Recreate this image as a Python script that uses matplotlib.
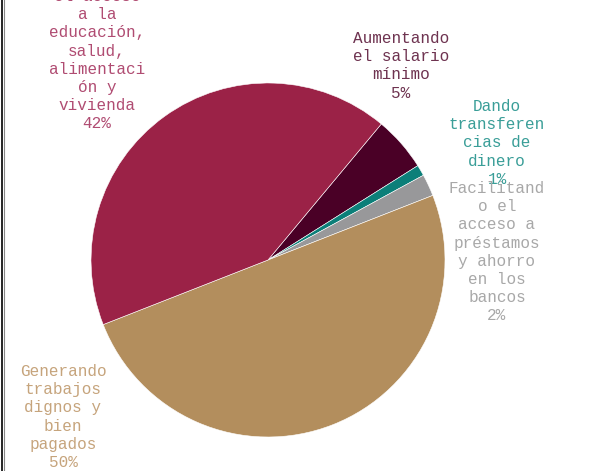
import matplotlib as mpl
import matplotlib.pyplot as plt
from matplotlib.lines import Line2D

mpl.rcParams.update({"font.family": ["Liberation Mono", "DejaVu Sans Mono"]})

# data (clockwise from the top-right slice)
labels = ["Aumentando\nel salario\nmínimo",
          "Dando\ntransferen\ncias de\ndinero",
          "Facilitand\no el\nacceso a\npréstamos\ny ahorro\nen los\nbancos",
          "Generando\ntrabajos\ndignos y\nbien\npagados",
          "el acceso\na la\neducación,\nsalud,\nalimentaci\nón y\nvivienda"]
values = [5, 1, 2, 50, 42]
colors = ["#4A0026", "#0C7F79", "#98989A", "#B38E5D", "#9B2247"]
text_colors = ["#6E3350", "#3A9E98", "#A8A8A8", "#C6A47C", "#B04C72"]

# label centres in pixels of the 602x471 picture (x, y of the top line)
label_px = [(401, 39), (497, 107), (497, 189), (63, 372), (97, -3)]

W, H = 602, 471
cx, cy, r = 268, 260, 177

fig = plt.figure(figsize=(W / 100, H / 100), dpi=100)
ax = fig.add_axes([(cx - r) / W, (H - cy - r) / H, 2 * r / W, 2 * r / H])
ax.pie(values, colors=colors, startangle=50.2, counterclock=False,
       wedgeprops=dict(edgecolor="white", linewidth=0.4), radius=1)
ax.set_xlim(-1, 1)
ax.set_ylim(-1, 1)
ax.set_aspect("equal")
ax.axis("off")

total = sum(values)
for lab, v, c, (px, py) in zip(labels, values, text_colors, label_px):
    txt = lab + "\n" + "{:.0f}%".format(100 * v / total)
    fig.text(px / W, 1 - (py - 8) / H, txt, color=c, fontsize=11.5,
             ha="center", va="top", multialignment="center", linespacing=1.265)

# left frame line
fig.add_artist(Line2D([1.5 / W, 1.5 / W], [0, 1], color="black", linewidth=1.2))
fig.add_artist(Line2D([3.5 / W, 3.5 / W], [0, 1], color="#888888", linewidth=0.8))

plt.savefig("out.png", dpi=100)
